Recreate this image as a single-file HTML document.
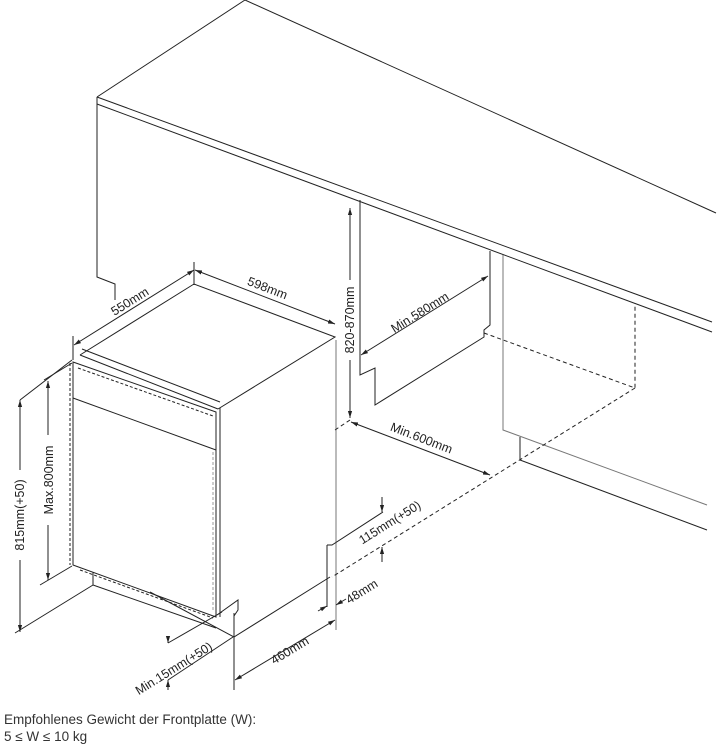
<!DOCTYPE html>
<html><head><meta charset="utf-8"><style>
html,body{margin:0;padding:0;background:#fff;}
svg{display:block;}
text{font-family:"Liberation Sans",sans-serif;font-size:12.5px;fill:#222;}
.b{font-size:13.5px;fill:#333;}
</style></head><body>
<svg width="721" height="752" viewBox="0 0 721 752" xmlns="http://www.w3.org/2000/svg">
<defs>
<marker id="a" viewBox="0 0 10 10" refX="10" refY="5" markerWidth="7" markerHeight="7" orient="auto-start-reverse"><path d="M0,2 L10,5 L0,8 z" fill="#222"/></marker>
</defs>
<g stroke="#222" stroke-width="1" fill="none">
<path d="M97,97 L245,0 L716,213"/>
<path d="M97,97 L712,322"/>
<path d="M97,104 L712,332"/>
<path d="M97,97 V277 L115,284 V300"/>
<path d="M360,200 V375 L375,368 V405 L484,337 V330 L490,325 V251"/>
<path d="M503,255 V430 L707,505" stroke="#777"/>
<path d="M520,437 V460 L707,530"/>
<path d="M336,340 V630" stroke="#777"/>
<g stroke-dasharray="4,3">
<path d="M484,333 L635,388 V303"/>
<path d="M635,388 L332,577"/>
<path d="M350,420 L335,430"/>
</g>
<path d="M80,355 L194,284 L335,337 L218,409"/>
<path d="M80,355 L218,409"/>
<path d="M82,349 L220,402"/>
<path d="M73,362 L216,412 V617 L73,565 Z"/>
<path d="M73,398 L216,450"/>
<path d="M220,408 V617"/>
<path d="M213,452 V612" stroke="#999" stroke-dasharray="3,2"/>
<path d="M70,363 V565" stroke-dasharray="3,2"/>
<path d="M78,368 L213,416" stroke-dasharray="3,2"/>
<path d="M80,570 L213,618" stroke-dasharray="3,2"/>
<path d="M93,572 V585 L216,628"/>
<path d="M93,585 L15,633"/>
<path d="M150,592 L234,637 L330,577"/>
<path d="M217,615 L238,600 V610 L234,616"/>
<path d="M234,613 V690"/>
<path d="M20,400 L72,360"/><path d="M44,380 L72,363"/><path d="M40,585 L72,566"/>
<line x1="20" y1="400" x2="20" y2="470" marker-start="url(#a)"/>
<line x1="20" y1="560" x2="20" y2="632" marker-end="url(#a)"/>
<line x1="48" y1="381" x2="48" y2="435" marker-start="url(#a)"/>
<line x1="48" y1="525" x2="48" y2="580" marker-end="url(#a)"/>
<path d="M73,336 V360"/><path d="M194,262 V285"/>
<line x1="74" y1="345" x2="194" y2="270" marker-start="url(#a)" marker-end="url(#a)"/>
<line x1="195" y1="270" x2="335" y2="324" marker-start="url(#a)" marker-end="url(#a)"/>
<line x1="350" y1="208" x2="350" y2="280" marker-start="url(#a)"/>
<line x1="350" y1="360" x2="350" y2="418" marker-end="url(#a)"/>
<line x1="361" y1="355" x2="488" y2="276" marker-start="url(#a)" marker-end="url(#a)"/>
<line x1="351" y1="422" x2="490" y2="475" marker-start="url(#a)" marker-end="url(#a)"/>
<path d="M327,545 V607"/><path d="M327,545 L332,545 L383,512"/>
<line x1="382" y1="497" x2="382" y2="512" marker-end="url(#a)"/>
<line x1="382" y1="562" x2="382" y2="547" marker-end="url(#a)"/>
<line x1="318" y1="611" x2="327" y2="606" marker-end="url(#a)"/>
<line x1="346" y1="599" x2="336" y2="605" marker-end="url(#a)"/>
<line x1="235" y1="680" x2="335" y2="620" marker-start="url(#a)" marker-end="url(#a)"/>
<path d="M168,643 L222,612"/><path d="M168,680 L233,637"/>
<line x1="168" y1="636" x2="168" y2="643" marker-end="url(#a)"/>
<line x1="168" y1="690" x2="168" y2="680" marker-end="url(#a)"/>
</g>
<g>
<text transform="translate(24,515) rotate(-90)" text-anchor="middle">815mm(+50)</text>
<text transform="translate(53,480) rotate(-90)" text-anchor="middle">Max.800mm</text>
<text transform="translate(132,305) rotate(-32)" text-anchor="middle">550mm</text>
<text transform="translate(266,292) rotate(21)" text-anchor="middle">598mm</text>
<text transform="translate(354,320) rotate(-90)" text-anchor="middle">820-870mm</text>
<text transform="translate(422,316) rotate(-32)" text-anchor="middle">Min.580mm</text>
<text transform="translate(420,442) rotate(21)" text-anchor="middle">Min.600mm</text>
<text transform="translate(392,526) rotate(-32)" text-anchor="middle">115mm(+50)</text>
<text transform="translate(364,595) rotate(-32)" text-anchor="middle">48mm</text>
<text transform="translate(292,654) rotate(-31)" text-anchor="middle">460mm</text>
<text transform="translate(176,672) rotate(-32)" text-anchor="middle">Min.15mm(+50)</text>
<text class="b" x="4" y="724">Empfohlenes Gewicht der Frontplatte (W):</text>
<text class="b" x="4" y="741">5 ≤ W ≤ 10 kg</text>
</g>
</svg>
</body></html>
